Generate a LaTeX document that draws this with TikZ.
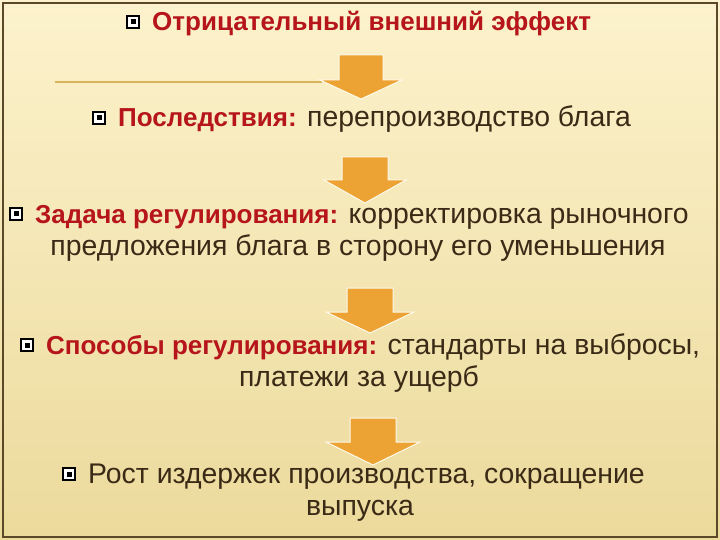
\documentclass[tikz,border=0pt]{standalone}
\usepackage{fontspec}
\setmainfont{Liberation Sans}
\usetikzlibrary{calc}
\definecolor{bgtop}{HTML}{FCF2CC}
\definecolor{bgbot}{HTML}{ECDA9C}
\definecolor{frame}{HTML}{5A4828}
\definecolor{rule}{HTML}{D6B45C}
\definecolor{arrowc}{HTML}{ECA334}
\definecolor{redt}{HTML}{B5151B}
\definecolor{darkt}{HTML}{3A2A16}
\newcommand{\redlbl}[1]{{\fontsize{26}{30}\selectfont\bfseries\color{redt}#1}}
\tikzset{
  txt/.style={inner sep=0pt, font=\fontsize{28.4}{32}\selectfont, text=darkt},
  blockarrow/.style={fill=arrowc, draw=white!60!bgtop, line width=1pt, line join=miter},
}
\newcommand{\boxbullet}[1]{%
  \draw[line width=1.6pt, draw=black, fill=white] ($(#1)+(-6,-6)$) rectangle ($(#1)+(6,6)$);
  \fill[black] ($(#1)+(-2.5,-2.5)$) rectangle ($(#1)+(2.5,2.5)$);
}
\newcommand{\downarrowshape}[6]{% cx, top, base, tip, shaft half, head half
  \draw[blockarrow] (#1-#5,#2) -- (#1+#5,#2) -- (#1+#5,#3) -- (#1+#6,#3) -- (#1,#4) -- (#1-#6,#3) -- (#1-#5,#3) -- cycle;
}
\begin{document}
\begin{tikzpicture}[x=1pt,y=-1pt]
\useasboundingbox (0,0) rectangle (720,540);
\shade[top color=bgtop, bottom color=bgbot] (0,0) rectangle (720,540);
\draw[frame, line width=1.5pt] (3,3) rectangle (717,537);
\coordinate (r1) at (55,82);
\coordinate (r2) at (322,82);
\draw[rule, line width=1.6pt] (r1) -- (r2);

% arrows
\downarrowshape{361}{55}{80}{99}{22}{41}
\downarrowshape{365}{157}{180}{203}{23}{41}
\downarrowshape{370}{288}{312}{333}{23}{44}
\downarrowshape{373}{418}{442}{465}{23}{47}

% item 1
\coordinate (b1) at (133,22);
\boxbullet{b1}
\node[txt, anchor=base west] (t1) at (152,31) {\redlbl{Отрицательный внешний эффект}};

% item 2
\coordinate (b2) at (99,118);
\boxbullet{b2}
\node[txt, anchor=base west] (t2) at (118,127) {\redlbl{Последствия:} перепроизводство блага};

% item 3
\coordinate (b3) at (16,214);
\boxbullet{b3}
\node[txt, anchor=base west] (t3a) at (35,223) {\redlbl{Задача регулирования:} корректировка рыночного};
\node[txt, anchor=base] (t3b) at (358,255) {предложения блага в сторону его уменьшения};

% item 4
\coordinate (b4) at (27,345);
\boxbullet{b4}
\node[txt, anchor=base west] (t4a) at (46,354) {\redlbl{Способы регулирования:} стандарты на выбросы,};
\node[txt, anchor=base] (t4b) at (359,386) {платежи за ущерб};

% item 5
\coordinate (b5) at (69,474);
\boxbullet{b5}
\node[txt, anchor=base west] (t5a) at (88,483) {Рост издержек производства, сокращение};
\node[txt, anchor=base] (t5b) at (360,515) {выпуска};
\end{tikzpicture}
\end{document}
